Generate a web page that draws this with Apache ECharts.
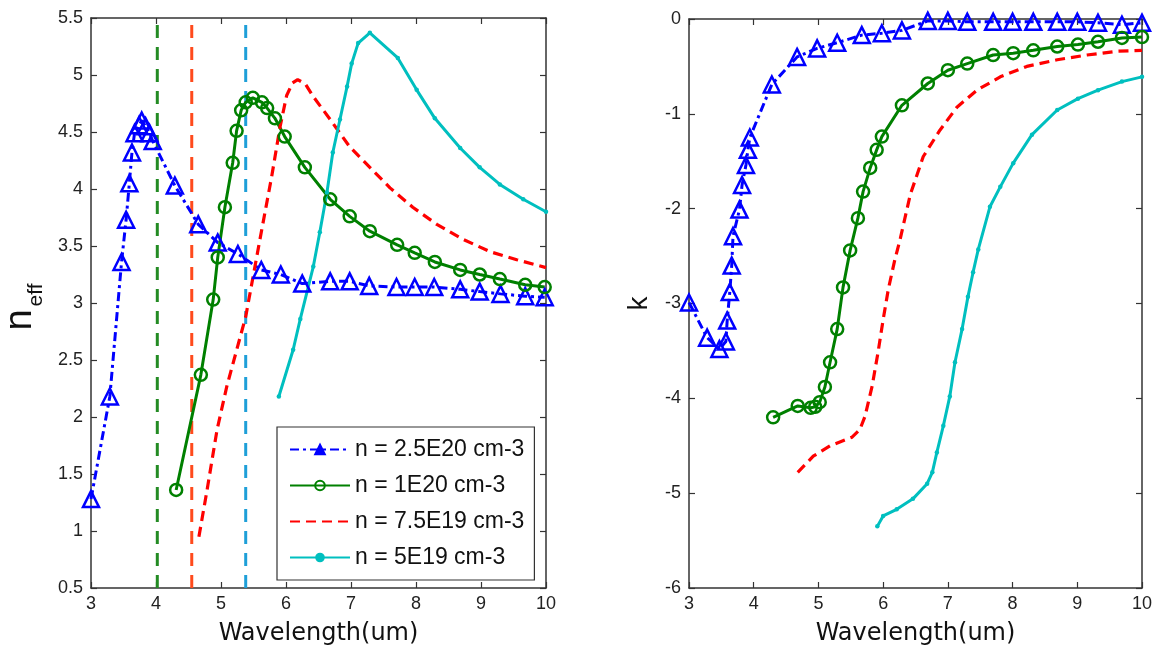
<!DOCTYPE html>
<html>
<head>
<meta charset="utf-8">
<script src="https://cdn.jsdelivr.net/npm/echarts@6/dist/echarts.min.js"></script>
<style>html,body{margin:0;padding:0;background:#fff}#c{width:1159px;height:651px}</style>
</head>
<body>
<div id="c"></div>
<script>
// ---- Data ----
const seriesNames = ['n = 2.5E20 cm-3', 'n = 1E20 cm-3', 'n = 7.5E19 cm-3', 'n = 5E19 cm-3'];
const xTicks = [3, 4, 5, 6, 7, 8, 9, 10];

// Left panel: n_eff
const blueN_x = [3.0, 3.29, 3.47, 3.54, 3.59, 3.63, 3.67, 3.74, 3.78, 3.84, 3.90, 3.95, 4.29, 4.65, 4.95, 5.26, 5.62, 5.92, 6.25, 6.68, 6.98, 7.28, 7.70, 7.98, 8.28, 8.68, 8.98, 9.30, 9.68, 9.98];
const blueN   = [1.28, 2.18, 3.36, 3.73, 4.05, 4.32, 4.49, 4.56, 4.60, 4.55, 4.49, 4.42, 4.03, 3.69, 3.53, 3.43, 3.29, 3.25, 3.17, 3.19, 3.19, 3.15, 3.14, 3.14, 3.14, 3.12, 3.10, 3.08, 3.06, 3.05];
const greenN_x = [4.31, 4.69, 4.88, 4.95, 5.06, 5.18, 5.24, 5.31, 5.38, 5.49, 5.63, 5.71, 5.83, 5.98, 6.29, 6.68, 6.98, 7.29, 7.71, 7.98, 8.29, 8.68, 8.98, 9.29, 9.68, 9.98];
const greenN   = [1.36, 2.37, 3.03, 3.40, 3.84, 4.23, 4.51, 4.69, 4.76, 4.80, 4.76, 4.71, 4.62, 4.46, 4.19, 3.91, 3.76, 3.63, 3.51, 3.44, 3.36, 3.29, 3.25, 3.21, 3.16, 3.14];
const redN_x = [4.66, 4.78, 4.94, 5.09, 5.38, 5.60, 5.78, 5.91, 6.01, 6.10, 6.18, 6.30, 6.42, 6.68, 6.98, 7.29, 7.60, 7.95, 8.32, 8.72, 9.14, 9.55, 10.0];
const redN   = [0.95, 1.34, 1.89, 2.27, 2.88, 3.56, 4.11, 4.55, 4.82, 4.93, 4.96, 4.92, 4.81, 4.61, 4.37, 4.19, 4.01, 3.84, 3.69, 3.56, 3.45, 3.38, 3.31];
const cyanN_x = [5.89, 6.11, 6.22, 6.42, 6.52, 6.63, 6.72, 6.83, 6.94, 7.01, 7.11, 7.29, 7.72, 8.01, 8.29, 8.68, 8.98, 9.29, 9.65, 10.0];
const cyanN   = [2.18, 2.59, 2.86, 3.32, 3.62, 3.97, 4.32, 4.61, 4.90, 5.10, 5.28, 5.37, 5.15, 4.87, 4.62, 4.36, 4.19, 4.04, 3.91, 3.80];
const vLines_x = [4.02, 4.55, 5.38];

// Right panel: k
const blueK_x = [3.0, 3.28, 3.47, 3.57, 3.59, 3.63, 3.66, 3.68, 3.78, 3.82, 3.88, 3.91, 3.94, 4.28, 4.67, 4.98, 5.29, 5.67, 5.98, 6.29, 6.69, 7.0, 7.3, 7.7, 8.0, 8.32, 8.69, 9.0, 9.32, 9.69, 10.0];
const blueK   = [-2.99, -3.36, -3.48, -3.40, -3.18, -2.88, -2.60, -2.29, -2.01, -1.75, -1.54, -1.38, -1.25, -0.69, -0.40, -0.31, -0.25, -0.17, -0.15, -0.12, -0.02, -0.02, -0.03, -0.03, -0.03, -0.03, -0.03, -0.03, -0.04, -0.06, -0.04];
const greenK_x = [4.30, 4.68, 4.88, 4.95, 5.02, 5.10, 5.18, 5.29, 5.38, 5.49, 5.61, 5.69, 5.80, 5.90, 5.98, 6.29, 6.69, 7.0, 7.30, 7.70, 8.01, 8.32, 8.69, 9.01, 9.32, 9.69, 10.0];
const greenK   = [-4.20, -4.08, -4.10, -4.09, -4.04, -3.88, -3.62, -3.27, -2.83, -2.44, -2.10, -1.82, -1.57, -1.38, -1.24, -0.91, -0.68, -0.54, -0.47, -0.38, -0.36, -0.33, -0.29, -0.27, -0.24, -0.20, -0.19];
const redK_x = [4.68, 4.92, 5.18, 5.52, 5.64, 5.72, 5.83, 5.92, 6.0, 6.08, 6.18, 6.26, 6.42, 6.62, 6.88, 7.14, 7.45, 7.81, 8.22, 8.69, 9.15, 9.62, 10.0];
const redK   = [-4.78, -4.61, -4.50, -4.41, -4.33, -4.19, -3.87, -3.52, -3.17, -2.85, -2.54, -2.33, -1.85, -1.45, -1.17, -0.93, -0.75, -0.61, -0.50, -0.43, -0.38, -0.34, -0.33];
const cyanK_x = [5.91, 6.0, 6.21, 6.46, 6.68, 6.76, 6.83, 6.93, 7.03, 7.11, 7.22, 7.31, 7.39, 7.47, 7.65, 7.81, 8.01, 8.30, 8.69, 9.01, 9.32, 9.69, 10.0];
const cyanK   = [-5.35, -5.24, -5.17, -5.06, -4.90, -4.78, -4.57, -4.29, -3.98, -3.62, -3.27, -2.93, -2.67, -2.43, -1.98, -1.77, -1.52, -1.22, -0.96, -0.84, -0.75, -0.66, -0.61];

// ---- Chart ----
const zip = (xs, ys) => xs.map((x, i) => [x, ys[i]]);
const FONT = '"Liberation Sans", Arial, sans-serif';
const AX = '#333';
const COLORS = ['#0000ff', '#008000', '#ff0000', '#00bfbf'];
const vColors = ['#238b23', '#ff4a1c', '#1e9fd8'];

function xAx(grid, pos, label) {
  return {
    type: 'value', gridIndex: grid, position: pos, min: 3, max: 10, interval: 1,
    axisLine: { show: true, onZero: false, lineStyle: { color: AX, width: 1.5 } },
    axisTick: { show: true, inside: true, length: 6, lineStyle: { color: AX, width: 1.2 } },
    axisLabel: { show: label, fontSize: 18, color: '#222', margin: 7, fontFamily: FONT,
                 formatter: v => xTicks.includes(v) ? String(v) : '' },
    splitLine: { show: false },
    name: label ? 'Wavelength(um)' : '', nameLocation: 'middle', nameGap: 34,
    nameTextStyle: { fontSize: 24, color: '#111', fontFamily: '"DejaVu Sans", sans-serif' }
  };
}
function yAx(grid, pos, label, min, max, interval, name, gap) {
  return {
    type: 'value', gridIndex: grid, position: pos, min: min, max: max, interval: interval,
    axisLine: { show: true, onZero: false, lineStyle: { color: AX, width: 1.5 } },
    axisTick: { show: true, inside: true, length: 6, lineStyle: { color: AX, width: 1.2 } },
    axisLabel: { show: label, fontSize: 18, color: '#222', margin: 8, fontFamily: FONT },
    splitLine: { show: false },
    name: name || '', nameLocation: 'middle', nameGap: gap || 30,
    nameTextStyle: { fontSize: 28, color: '#111', fontFamily: FONT }
  };
}

function mainSeries(idx, data, xi, yi) {
  const c = COLORS[idx];
  const base = {
    name: seriesNames[idx], type: 'line', xAxisIndex: xi, yAxisIndex: yi,
    data: data, animation: false, smooth: false, clip: true, z: 3,
    emphasis: { disabled: true }
  };
  if (idx === 0) return Object.assign(base, {
    symbol: 'triangle', symbolSize: 16, showAllSymbol: true,
    itemStyle: { color: 'rgba(255,255,255,0)', borderColor: c, borderWidth: 2.5 },
    lineStyle: { color: c, width: 3, type: [9, 4, 3, 4] }
  });
  if (idx === 1) return Object.assign(base, {
    symbol: 'circle', symbolSize: 12, showAllSymbol: true,
    itemStyle: { color: 'rgba(255,255,255,0)', borderColor: c, borderWidth: 2.5 },
    lineStyle: { color: c, width: 3, type: 'solid' }
  });
  if (idx === 2) return Object.assign(base, {
    symbol: 'none',
    itemStyle: { color: c },
    lineStyle: { color: c, width: 3.2, type: [10, 6] }
  });
  return Object.assign(base, {
    symbol: 'circle', symbolSize: 4.5, showAllSymbol: true,
    itemStyle: { color: c, borderWidth: 0 },
    lineStyle: { color: c, width: 3, type: 'solid' }
  });
}

const series = [];
vLines_x.forEach((x, i) => {
  series.push({
    name: 'v' + i, type: 'line', xAxisIndex: 0, yAxisIndex: 0, symbol: 'none', animation: false,
    silent: true, z: 2, data: [[x, 0.5], [x, 5.5]],
    lineStyle: { color: vColors[i], width: 3, type: [13, 9] }
  });
});
const leftData = [zip(blueN_x, blueN), zip(greenN_x, greenN), zip(redN_x, redN), zip(cyanN_x, cyanN)];
const rightData = [zip(blueK_x, blueK), zip(greenK_x, greenK), zip(redK_x, redK), zip(cyanK_x, cyanK)];
leftData.forEach((d, i) => series.push(mainSeries(i, d, 0, 0)));
rightData.forEach((d, i) => series.push(mainSeries(i, d, 2, 2)));

const option = {
  backgroundColor: '#fff',
  animation: false,
  grid: [
    { left: 91, right: 613, top: 18, bottom: 62 },
    { left: 689, right: 17, top: 19, bottom: 62 }
  ],
  xAxis: [xAx(0, 'bottom', true), xAx(0, 'top', false), xAx(1, 'bottom', true), xAx(1, 'top', false)],
  yAxis: [
    yAx(0, 'left', true, 0.5, 5.5, 0.5),
    yAx(0, 'right', false, 0.5, 5.5, 0.5),
    yAx(1, 'left', true, -6, 0, 1, 'k', 36),
    yAx(1, 'right', false, -6, 0, 1)
  ],
  legend: {
    data: [
      { name: seriesNames[0], itemStyle: { color: COLORS[0], borderColor: COLORS[0] } },
      { name: seriesNames[1] },
      { name: seriesNames[2], itemStyle: { color: 'rgba(0,0,0,0)', borderWidth: 0, opacity: 0 } },
      { name: seriesNames[3] }
    ],
    orient: 'vertical', left: 277, top: 427,
    itemWidth: 60, itemHeight: 12, itemGap: 13,
    padding: [11, 10, 11, 12],
    backgroundColor: '#fff', borderColor: '#333', borderWidth: 1.2,
    textStyle: { fontSize: 23, color: '#111', fontFamily: FONT },
    selectedMode: false
  },
  graphic: [
    { type: 'text', x: 21, y: 320, rotation: Math.PI / 2,
      style: { text: 'n', fontSize: 38, fill: '#111', fontFamily: FONT, align: 'center', verticalAlign: 'middle' } },
    { type: 'text', x: 36, y: 295, rotation: Math.PI / 2,
      style: { text: 'eff', fontSize: 21, fill: '#111', fontFamily: FONT, align: 'center', verticalAlign: 'middle' } }
  ],
  series: series
};
echarts.init(document.getElementById('c'), null, { renderer: 'canvas' }).setOption(option);
</script>
</body>
</html>
